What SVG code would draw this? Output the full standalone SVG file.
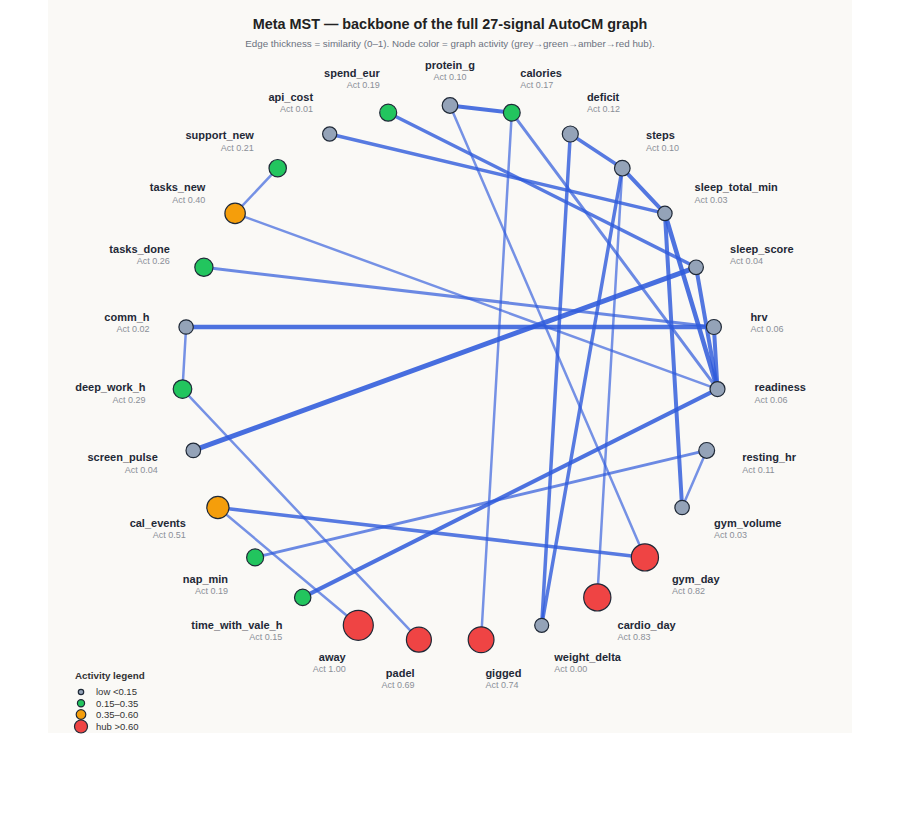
<svg xmlns="http://www.w3.org/2000/svg" width="900" height="820" viewBox="0 0 900 820">
<style>
.title{font-family:"Liberation Sans",Arial,sans-serif;font-size:14.4px;font-weight:bold;fill:#222;text-anchor:middle}
.sub{font-family:"Liberation Sans",Arial,sans-serif;font-size:9.8px;fill:#6b7280;text-anchor:middle}
.nm{font-family:"Liberation Sans",Arial,sans-serif;font-size:11px;font-weight:bold;fill:#1f2937}
.act{font-family:"Liberation Sans",Arial,sans-serif;font-size:9px;fill:#8a8f98}
.s{text-anchor:start}.e{text-anchor:end}.m{text-anchor:middle}
.n{stroke:#1f2937;stroke-width:1.2}
.low{fill:#94a3b8}.mid{fill:#22c55e}.hi{fill:#f59e0b}.hub{fill:#ef4444}
#edges line{stroke:#2f5bdc;stroke-linecap:round}
.lg{font-family:"Liberation Sans",Arial,sans-serif;font-size:9.5px;fill:#333}
.lgt{font-family:"Liberation Sans",Arial,sans-serif;font-size:9.8px;font-weight:bold;fill:#333}
</style>
<rect x="0" y="0" width="900" height="820" fill="#ffffff"/>
<rect x="48" y="0" width="804" height="733" fill="#faf9f6"/>
<text class="title" x="450" y="29">Meta MST — backbone of the full 27-signal AutoCM graph</text>
<text class="sub" x="450" y="46.5">Edge thickness = similarity (0–1). Node color = graph activity (grey→green→amber→red hub).</text>
<g id="edges">
<line x1="450.0" y1="105.5" x2="511.8" y2="112.7" stroke-width="4" opacity="0.85"/>
<line x1="450.0" y1="105.5" x2="644.9" y2="557.4" stroke-width="2.5" opacity="0.65"/>
<line x1="511.8" y1="112.7" x2="481.1" y2="639.7" stroke-width="2.5" opacity="0.65"/>
<line x1="511.8" y1="112.7" x2="717.5" y2="389.1" stroke-width="3" opacity="0.7"/>
<line x1="570.3" y1="134.0" x2="622.3" y2="168.2" stroke-width="3.5" opacity="0.8"/>
<line x1="570.3" y1="134.0" x2="541.7" y2="625.3" stroke-width="3.5" opacity="0.8"/>
<line x1="622.3" y1="168.2" x2="664.9" y2="213.4" stroke-width="4" opacity="0.82"/>
<line x1="622.3" y1="168.2" x2="541.7" y2="625.3" stroke-width="3.5" opacity="0.8"/>
<line x1="622.3" y1="168.2" x2="597.3" y2="597.4" stroke-width="2.5" opacity="0.65"/>
<line x1="329.7" y1="134.0" x2="664.9" y2="213.4" stroke-width="3.5" opacity="0.8"/>
<line x1="388.2" y1="112.7" x2="696.1" y2="267.3" stroke-width="3.5" opacity="0.8"/>
<line x1="664.9" y1="213.4" x2="682.1" y2="507.5" stroke-width="4" opacity="0.82"/>
<line x1="664.9" y1="213.4" x2="717.5" y2="389.1" stroke-width="4.5" opacity="0.85"/>
<line x1="696.1" y1="267.3" x2="193.3" y2="450.4" stroke-width="5" opacity="0.88"/>
<line x1="696.1" y1="267.3" x2="717.5" y2="389.1" stroke-width="4" opacity="0.82"/>
<line x1="713.9" y1="327.0" x2="717.5" y2="389.1" stroke-width="4" opacity="0.82"/>
<line x1="186.1" y1="327.0" x2="713.9" y2="327.0" stroke-width="4.5" opacity="0.85"/>
<line x1="203.9" y1="267.3" x2="713.9" y2="327.0" stroke-width="3" opacity="0.7"/>
<line x1="235.1" y1="213.4" x2="717.5" y2="389.1" stroke-width="2.5" opacity="0.65"/>
<line x1="277.7" y1="168.2" x2="235.1" y2="213.4" stroke-width="2.5" opacity="0.65"/>
<line x1="186.1" y1="327.0" x2="182.5" y2="389.1" stroke-width="2.5" opacity="0.65"/>
<line x1="182.5" y1="389.1" x2="418.9" y2="639.7" stroke-width="2.5" opacity="0.65"/>
<line x1="217.9" y1="507.5" x2="358.3" y2="625.3" stroke-width="2.5" opacity="0.65"/>
<line x1="217.9" y1="507.5" x2="644.9" y2="557.4" stroke-width="3.5" opacity="0.8"/>
<line x1="255.1" y1="557.4" x2="706.7" y2="450.4" stroke-width="3" opacity="0.7"/>
<line x1="706.7" y1="450.4" x2="682.1" y2="507.5" stroke-width="2.5" opacity="0.65"/>
<line x1="302.7" y1="597.4" x2="717.5" y2="389.1" stroke-width="4" opacity="0.85"/>
</g>
<g id="n-protein_g"><circle class="n low" cx="450.0" cy="105.5" r="7.8"/><text class="nm m" x="450.0" y="68.5">protein_g</text><text class="act m" x="450.0" y="80">Act 0.10</text></g>
<g id="n-calories"><circle class="n mid" cx="511.8" cy="112.7" r="8.4"/><text class="nm s" x="520.3" y="76.7">calories</text><text class="act s" x="520.3" y="88.2">Act 0.17</text></g>
<g id="n-deficit"><circle class="n low" cx="570.3" cy="134.0" r="8.0"/><text class="nm s" x="586.9" y="100.5">deficit</text><text class="act s" x="586.9" y="112">Act 0.12</text></g>
<g id="n-steps"><circle class="n low" cx="622.3" cy="168.2" r="7.8"/><text class="nm s" x="646.1" y="139.4">steps</text><text class="act s" x="646.1" y="150.9">Act 0.10</text></g>
<g id="n-sleep_total_min"><circle class="n low" cx="664.9" cy="213.4" r="7.2"/><text class="nm s" x="694.6" y="191.3">sleep_total_min</text><text class="act s" x="694.6" y="202.8">Act 0.03</text></g>
<g id="n-sleep_score"><circle class="n low" cx="696.1" cy="267.3" r="7.3"/><text class="nm s" x="730.1" y="252.7">sleep_score</text><text class="act s" x="730.1" y="264.2">Act 0.04</text></g>
<g id="n-hrv"><circle class="n low" cx="713.9" cy="327.0" r="7.5"/><text class="nm s" x="750.4" y="320.5">hrv</text><text class="act s" x="750.4" y="332">Act 0.06</text></g>
<g id="n-readiness"><circle class="n low" cx="717.5" cy="389.1" r="7.5"/><text class="nm s" x="754.5" y="391.2">readiness</text><text class="act s" x="754.5" y="402.7">Act 0.06</text></g>
<g id="n-resting_hr"><circle class="n low" cx="706.7" cy="450.4" r="7.9"/><text class="nm s" x="742.2" y="461.0">resting_hr</text><text class="act s" x="742.2" y="472.5">Act 0.11</text></g>
<g id="n-gym_volume"><circle class="n low" cx="682.1" cy="507.5" r="7.2"/><text class="nm s" x="714.1" y="526.5">gym_volume</text><text class="act s" x="714.1" y="538">Act 0.03</text></g>
<g id="n-gym_day"><circle class="n hub" cx="644.9" cy="557.4" r="13.6"/><text class="nm s" x="671.9" y="582.8">gym_day</text><text class="act s" x="671.9" y="594.3">Act 0.82</text></g>
<g id="n-cardio_day"><circle class="n hub" cx="597.3" cy="597.4" r="13.6"/><text class="nm s" x="617.6" y="628.8">cardio_day</text><text class="act s" x="617.6" y="640.3">Act 0.83</text></g>
<g id="n-weight_delta"><circle class="n low" cx="541.7" cy="625.3" r="7.0"/><text class="nm s" x="554.3" y="660.6">weight_delta</text><text class="act s" x="554.3" y="672.1">Act 0.00</text></g>
<g id="n-gigged"><circle class="n hub" cx="481.1" cy="639.7" r="12.9"/><text class="nm s" x="485.4" y="676.6">gigged</text><text class="act s" x="485.4" y="688.1">Act 0.74</text></g>
<g id="n-padel"><circle class="n hub" cx="418.9" cy="639.7" r="12.5"/><text class="nm e" x="414.6" y="676.6">padel</text><text class="act e" x="414.6" y="688.1">Act 0.69</text></g>
<g id="n-away"><circle class="n hub" cx="358.3" cy="625.3" r="15"/><text class="nm e" x="345.7" y="660.6">away</text><text class="act e" x="345.7" y="672.1">Act 1.00</text></g>
<g id="n-time_with_vale_h"><circle class="n mid" cx="302.7" cy="597.4" r="8.2"/><text class="nm e" x="282.4" y="628.8">time_with_vale_h</text><text class="act e" x="282.4" y="640.3">Act 0.15</text></g>
<g id="n-nap_min"><circle class="n mid" cx="255.1" cy="557.4" r="8.5"/><text class="nm e" x="228.1" y="582.8">nap_min</text><text class="act e" x="228.1" y="594.3">Act 0.19</text></g>
<g id="n-cal_events"><circle class="n hi" cx="217.9" cy="507.5" r="11.1"/><text class="nm e" x="185.9" y="526.5">cal_events</text><text class="act e" x="185.9" y="538">Act 0.51</text></g>
<g id="n-screen_pulse"><circle class="n low" cx="193.3" cy="450.4" r="7.3"/><text class="nm e" x="157.8" y="461.0">screen_pulse</text><text class="act e" x="157.8" y="472.5">Act 0.04</text></g>
<g id="n-deep_work_h"><circle class="n mid" cx="182.5" cy="389.1" r="9.3"/><text class="nm e" x="145.5" y="391.2">deep_work_h</text><text class="act e" x="145.5" y="402.7">Act 0.29</text></g>
<g id="n-comm_h"><circle class="n low" cx="186.1" cy="327.0" r="7.2"/><text class="nm e" x="149.6" y="320.5">comm_h</text><text class="act e" x="149.6" y="332">Act 0.02</text></g>
<g id="n-tasks_done"><circle class="n mid" cx="203.9" cy="267.3" r="9.1"/><text class="nm e" x="169.9" y="252.7">tasks_done</text><text class="act e" x="169.9" y="264.2">Act 0.26</text></g>
<g id="n-tasks_new"><circle class="n hi" cx="235.1" cy="213.4" r="10.2"/><text class="nm e" x="205.4" y="191.3">tasks_new</text><text class="act e" x="205.4" y="202.8">Act 0.40</text></g>
<g id="n-support_new"><circle class="n mid" cx="277.7" cy="168.2" r="8.7"/><text class="nm e" x="253.9" y="139.4">support_new</text><text class="act e" x="253.9" y="150.9">Act 0.21</text></g>
<g id="n-api_cost"><circle class="n low" cx="329.7" cy="134.0" r="7.1"/><text class="nm e" x="313.1" y="100.5">api_cost</text><text class="act e" x="313.1" y="112">Act 0.01</text></g>
<g id="n-spend_eur"><circle class="n mid" cx="388.2" cy="112.7" r="8.5"/><text class="nm e" x="379.7" y="76.7">spend_eur</text><text class="act e" x="379.7" y="88.2">Act 0.19</text></g>
<g id="legend">
<text class="lgt" x="75" y="678.5">Activity legend</text>
<circle class="n low" cx="81" cy="692" r="2.7" stroke-width="1"/><text class="lg" x="96" y="695">low &lt;0.15</text>
<circle class="n mid" cx="81" cy="703.3" r="3.6" stroke-width="1"/><text class="lg" x="96" y="706.5">0.15–0.35</text>
<circle class="n hi" cx="81" cy="714.5" r="4.8" stroke-width="1"/><text class="lg" x="96" y="718">0.35–0.60</text>
<circle class="n hub" cx="81" cy="726.5" r="6.5" stroke-width="1"/><text class="lg" x="96" y="730">hub &gt;0.60</text>
</g>
</svg>
